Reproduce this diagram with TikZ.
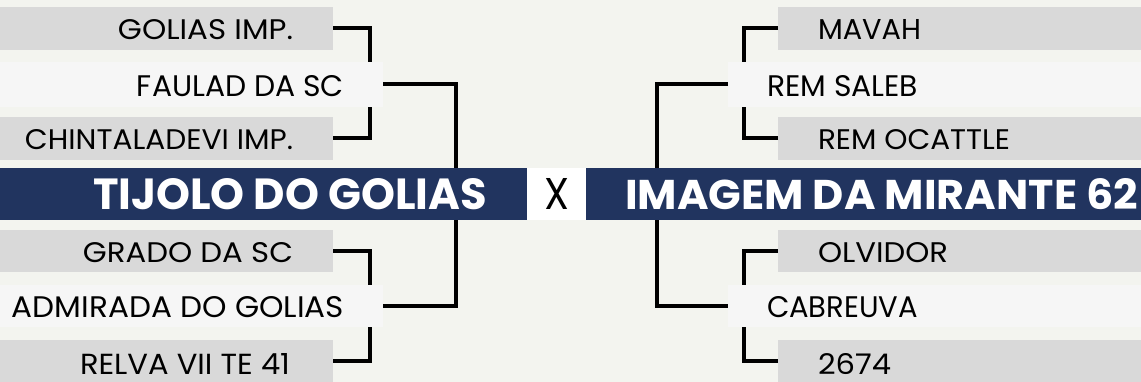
\documentclass[tikz,border=0pt]{standalone}
\usepackage{fontspec}
\setmainfont{Poppins}
\usepackage{graphicx}
\definecolor{bgc}{HTML}{F3F4EF}
\definecolor{barg}{HTML}{D9D9D9}
\definecolor{barl}{HTML}{F6F6F6}
\definecolor{navy}{HTML}{21345F}
\newcommand{\fitto}[3]{\resizebox{#1pt}{#2pt}{#3}}
\tikzset{
  bar/.style={draw=none, inner sep=0pt, outer sep=0pt, anchor=north west},
  graybar/.style={bar, fill=barg},
  lightbar/.style={bar, fill=barl},
  titlebar/.style={bar, fill=navy},
  xbox/.style={bar, fill=white},
  lbl/.style={inner sep=0pt, outer sep=0pt, text=black},
  ttl/.style={inner sep=0pt, outer sep=0pt, text=white, font=\bfseries},
  conn/.style={line width=4pt, draw=black, line join=miter}
}
\begin{document}
\begin{tikzpicture}[x=1pt,y=-1pt]
\useasboundingbox (0,0) rectangle (1141,382);
\fill[bgc] (0,0) rectangle (1141,382);
% left bars
\node[graybar, minimum width=333pt, minimum height=43pt] (L1) at (0,7) {};
\node[lightbar, minimum width=383pt, minimum height=45pt] (L2) at (0,62) {};
\node[graybar, minimum width=333pt, minimum height=43pt] (L3) at (0,117) {};
\node[graybar, minimum width=333pt, minimum height=42pt] (L4) at (0,230) {};
\node[lightbar, minimum width=383pt, minimum height=42pt] (L5) at (0,285) {};
\node[graybar, minimum width=333pt, minimum height=42pt] (L6) at (0,340) {};
% right bars
\node[graybar, minimum width=363pt, minimum height=43pt] (R1) at (778,7) {};
\node[lightbar, minimum width=413pt, minimum height=45pt] (R2) at (728,62) {};
\node[graybar, minimum width=363pt, minimum height=43pt] (R3) at (778,117) {};
\node[graybar, minimum width=363pt, minimum height=42pt] (R4) at (778,230) {};
\node[lightbar, minimum width=413pt, minimum height=42pt] (R5) at (728,285) {};
\node[graybar, minimum width=363pt, minimum height=42pt] (R6) at (778,340) {};
% bracket columns
\coordinate (lx) at (370,0);
\coordinate (bx) at (456,0);
\coordinate (rbx) at (657,0);
\coordinate (rx) at (744,0);
% connectors
\draw[conn] (L1.east) -| (lx |- L2.north);
\draw[conn] (L3.east) -| (lx |- L2.south);
\draw[conn] (L4.east) -| (lx |- L5.north);
\draw[conn] (L6.east) -| (lx |- L5.south);
\draw[conn] (L2.east) -| (bx |- L5.east) -- (L5.east);
\draw[conn] (R1.west) -| (rx |- R2.north);
\draw[conn] (R3.west) -| (rx |- R2.south);
\draw[conn] (R4.west) -| (rx |- R5.north);
\draw[conn] (R6.west) -| (rx |- R5.south);
\draw[conn] (R2.west) -| (rbx |- R5.west) -- (R5.west);
% title bars
\node[titlebar, minimum width=527pt, minimum height=52pt] (TL) at (0,168) {};
\node[xbox, minimum width=59pt, minimum height=52pt] (XB) at (527,168) {};
\node[titlebar, minimum width=555pt, minimum height=52pt] (TR) at (586,168) {};
% labels left
\node[lbl, anchor=east] (t1) at (293,29.5) {\fitto{175}{20}{GOLIAS IMP.}};
\node[lbl, anchor=east] (t2) at (344,86) {\fitto{207}{21}{FAULAD DA SC}};
\node[lbl, anchor=east] (t3) at (293,140) {\fitto{268}{20}{CHINTALADEVI IMP.}};
\node[lbl, anchor=east] (t4) at (293,253) {\fitto{210}{20}{GRADO DA SC}};
\node[lbl, anchor=east] (t5) at (344,307.5) {\fitto{332}{21}{ADMIRADA DO GOLIAS}};
\node[lbl, anchor=east] (t6) at (290,364) {\fitto{210}{21}{RELVA VII TE 41}};
% labels right
\node[lbl, anchor=west] (u1) at (818,29.5) {\fitto{103}{20}{MAVAH}};
\node[lbl, anchor=west] (u2) at (767,86) {\fitto{151}{21}{REM SALEB}};
\node[lbl, anchor=west] (u3) at (818,140) {\fitto{192}{20}{REM OCATTLE}};
\node[lbl, anchor=west] (u4) at (818,253) {\fitto{130}{20}{OLVIDOR}};
\node[lbl, anchor=west] (u5) at (767,307.5) {\fitto{151}{21}{CABREUVA}};
\node[lbl, anchor=west] (u6) at (818,364) {\fitto{73}{21}{2674}};
% titles
\node[ttl, anchor=west] (tt1) at (93,194.5) {\fitto{394}{31}{TIJOLO DO GOLIAS}};
\node[ttl, anchor=west] (tt2) at (625,194.5) {\fitto{513}{31}{IMAGEM DA MIRANTE 62}};
\node[lbl] (vs) at (XB.center) {\fitto{25}{31}{X}};
\end{tikzpicture}
\end{document}
